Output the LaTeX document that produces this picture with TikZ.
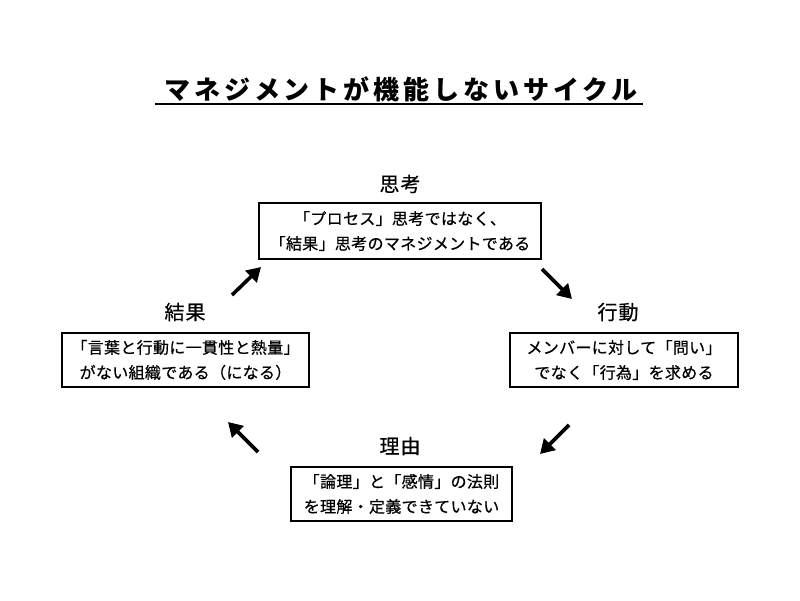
\documentclass[tikz,border=0pt]{standalone}
\usepackage{fontspec}
\usetikzlibrary{arrows.meta}
\newfontfamily\jpfont[LetterSpace=2,FakeBold=0.6]{Noto Sans CJK JP}
\newfontfamily\jplabel[LetterSpace=5,FakeBold=0.5]{Noto Sans CJK JP}
\newfontfamily\jptitle[LetterSpace=15]{Noto Sans CJK JP}
\begin{document}
\begin{tikzpicture}[x=1pt,y=-1pt,
  box/.style={draw,line width=2.4pt,inner sep=0pt,align=center,
    font=\jpfont\fontsize{16}{25}\selectfont},
  lbl/.style={inner sep=0pt,font=\jplabel\fontsize{20}{24}\selectfont},
  cyc/.style={line width=3.6pt,-{Triangle[length=14pt,width=16pt]}}]
\fill[white] (0,0) rectangle (800,600);
\useasboundingbox (0,0) rectangle (800,600);
% title
\node[inner sep=0pt,font=\jptitle\bfseries\fontsize{26}{30}\selectfont] (title) at (401,89) {マネジメントが機能しないサイクル};
\coordinate (ulA) at (155,104);
\coordinate (ulB) at (643,104);
\draw[line width=2pt] (ulA) -- (ulB);
% boxes
\node[box,minimum width=282pt,minimum height=56pt] (think) at (400,231)
  {「プロセス」思考ではなく、\\「結果」思考のマネジメントである};
\node[box,minimum width=247pt,minimum height=54pt] (result) at (185.5,360)
  {「言葉と行動に一貫性と熱量」\\がない組織である（になる）};
\node[box,minimum width=228pt,minimum height=54pt] (act) at (624,360)
  {メンバーに対して「問い」\\でなく「行為」を求める};
\node[box,minimum width=221pt,minimum height=54pt] (reason) at (401.5,494)
  {「論理」と「感情」の法則\\を理解・定義できていない};
% labels
\node[lbl] (lthink) at (400,184) {思考};
\node[lbl] (lresult) at (185,312) {結果};
\node[lbl] (lact) at (618,312) {行動};
\node[lbl] (lreason) at (400,446) {理由};
% arrows
\coordinate (a1s) at (232,295); \coordinate (a1e) at (261,267);
\coordinate (a2s) at (542,269); \coordinate (a2e) at (572,299);
\coordinate (a3s) at (569,425); \coordinate (a3e) at (540,454);
\coordinate (a4s) at (258,452); \coordinate (a4e) at (228,422);
\draw[cyc] (a1s) -- (a1e);
\draw[cyc] (a2s) -- (a2e);
\draw[cyc] (a3s) -- (a3e);
\draw[cyc] (a4s) -- (a4e);
\end{tikzpicture}
\end{document}
